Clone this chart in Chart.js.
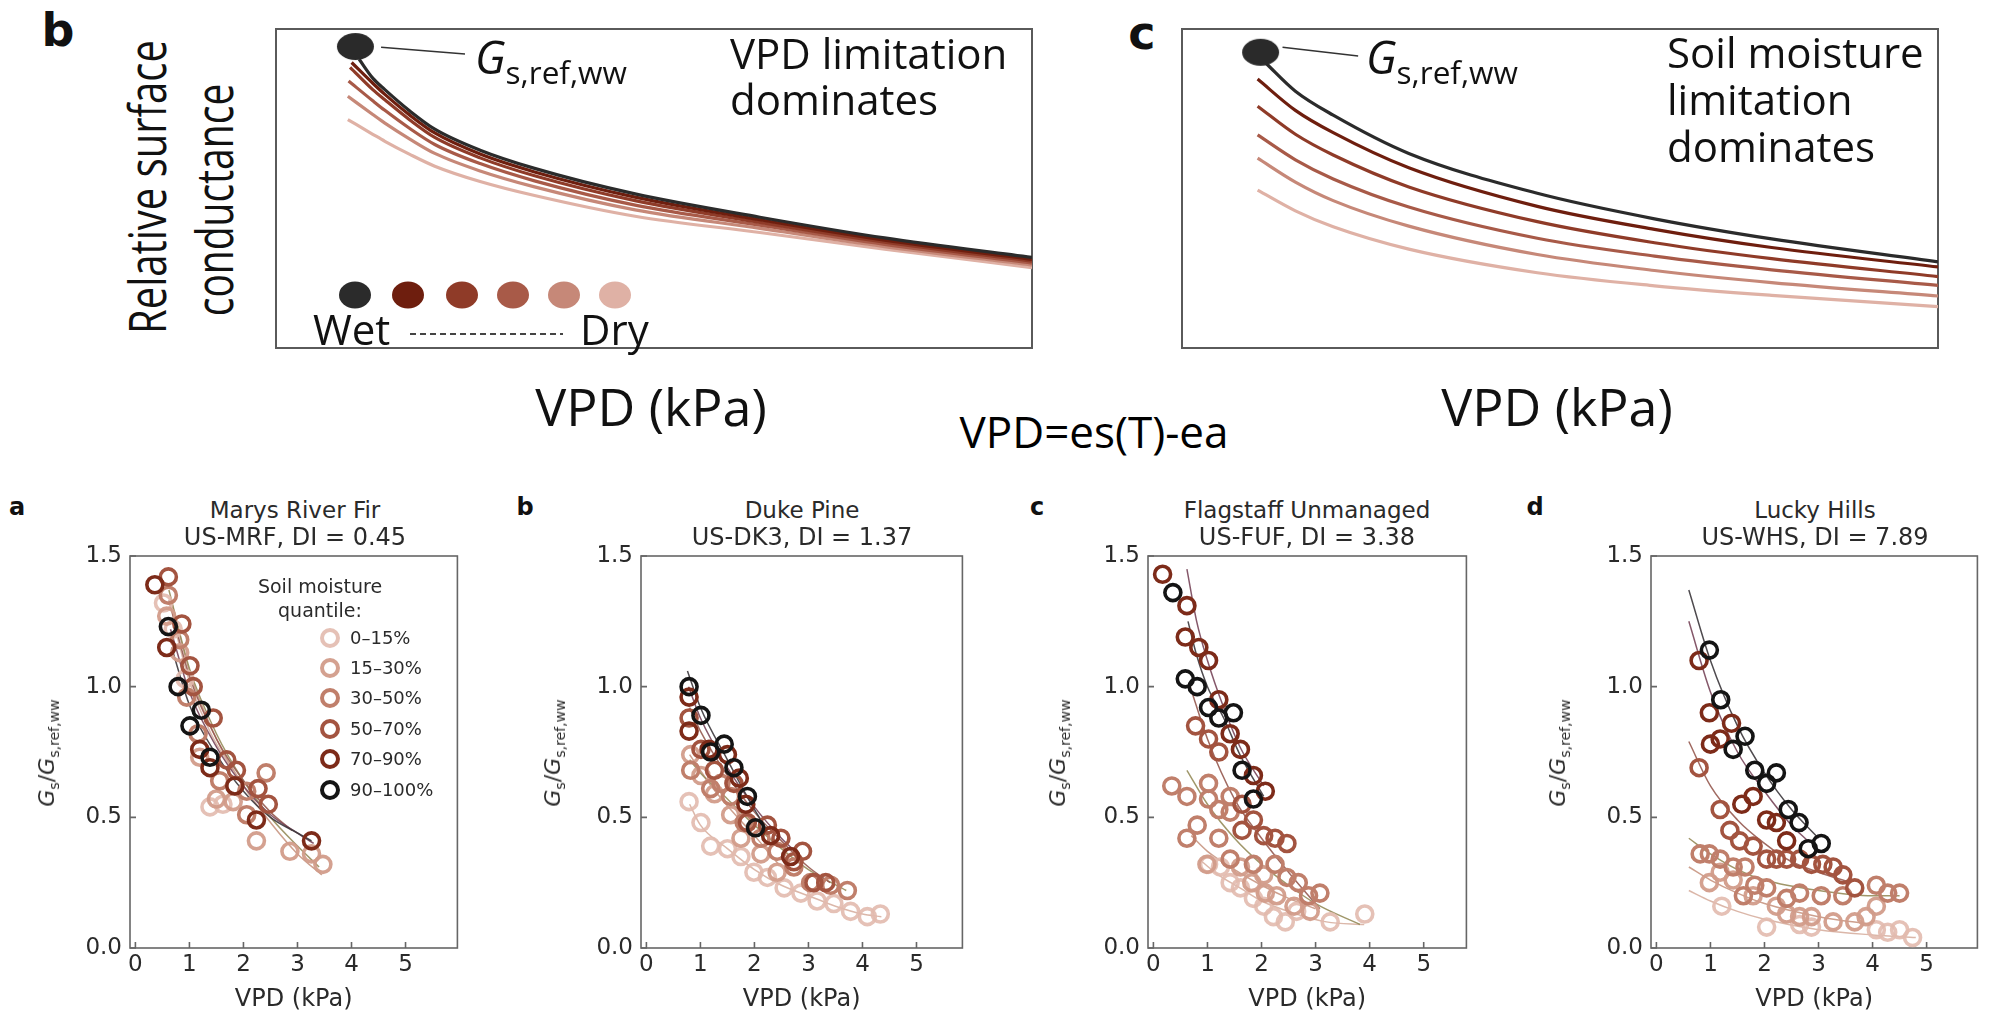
<!DOCTYPE html>
<html>
<head>
<meta charset="utf-8">
<script src="https://cdn.jsdelivr.net/npm/chart.js@4.4.1/dist/chart.umd.min.js"></script>
<style>
  body { margin: 0; background: #fff; }
  #page { position: relative; width: 1990px; height: 1013px; overflow: hidden; }
  canvas { position: absolute; }
  .t { position: absolute; white-space: nowrap; line-height: 1; transform: translate(-50%, -50%); color: #111; }
  .top { font-family: "Open Sans", sans-serif; }
  .bot { font-family: "DejaVu Sans", sans-serif; color: #2a2a2a; }
  .lbl { font-family: "DejaVu Sans", sans-serif; font-weight: bold; color: #111; }
  .rot { transform: translate(-50%, -50%) rotate(-90deg); }
  .rotw { transform: translate(-50%, -50%) rotate(-90deg) scaleY(1.3); }
  .dot { position: absolute; width: 32px; height: 27px; border-radius: 50%; transform: translate(-50%, -50%); }
  .ring { position: absolute; width: 12px; height: 12px; border-radius: 50%; border: 4px solid; transform: translate(-50%, -50%); }
  sub { font-size: 0.64em; vertical-align: baseline; position: relative; top: 0.32em; }
</style>
</head>
<body>
<div id="page">
  <canvas id="topB"></canvas>
  <canvas id="topC"></canvas>
  <canvas id="pA"></canvas>
  <canvas id="pB"></canvas>
  <canvas id="pC"></canvas>
  <canvas id="pD"></canvas>

  <!-- top row texts -->
  <div class="t lbl" style="left:58px;top:30px;font-size:46px;">b</div>
  <div class="t lbl" style="left:1142px;top:33px;font-size:46px;">c</div>
  <div class="t top rotw" style="left:146px;top:187px;font-size:40px;">Relative surface</div>
  <div class="t top rotw" style="left:213px;top:200px;font-size:39px;">conductance</div>

  <div class="t top" style="left:475px;top:34px;transform:none;font-size:45px;"><i>G</i><sub style="font-size:0.7em">s,ref,ww</sub></div>
  <div class="t top" style="left:730px;top:30px;transform:none;font-size:42px;line-height:46px;">VPD limitation<br>dominates</div>
  <div class="t top" style="left:1366px;top:34px;transform:none;font-size:45px;"><i>G</i><sub style="font-size:0.7em">s,ref,ww</sub></div>
  <div class="t top" style="left:1667px;top:28px;transform:none;font-size:42px;line-height:47px;">Soil moisture<br>limitation<br>dominates</div>

  <div class="t top" style="left:313px;top:308px;transform:none;font-size:42px;">Wet</div>
  <div style="position:absolute;left:410px;top:333px;width:153px;height:2px;background:repeating-linear-gradient(90deg,#444 0 6px,transparent 6px 10px);"></div>
  <div class="t top" style="left:580px;top:308px;transform:none;font-size:42px;">Dry</div>

  <div class="t top" style="left:651px;top:406px;font-size:52px;">VPD (kPa)</div>
  <div class="t top" style="left:1557px;top:406px;font-size:52px;">VPD (kPa)</div>
  <div class="t top" style="left:1094px;top:431px;font-size:44px;color:#000;">VPD=es(T)-ea</div>

  <!-- bottom row texts -->
  <div class="t lbl" style="left:17px;top:507px;font-size:24px;">a</div>
  <div class="t lbl" style="left:525px;top:507px;font-size:24px;">b</div>
  <div class="t lbl" style="left:1037px;top:507px;font-size:24px;">c</div>
  <div class="t lbl" style="left:1535px;top:507px;font-size:24px;">d</div>

  <div class="t bot" style="left:295px;top:510px;font-size:23px;">Marys River Fir</div>
  <div class="t bot" style="left:295px;top:537px;font-size:24px;">US-MRF, DI = 0.45</div>
  <div class="t bot" style="left:802px;top:510px;font-size:23px;">Duke Pine</div>
  <div class="t bot" style="left:802px;top:537px;font-size:24px;">US-DK3, DI = 1.37</div>
  <div class="t bot" style="left:1307px;top:510px;font-size:23px;">Flagstaff Unmanaged</div>
  <div class="t bot" style="left:1307px;top:537px;font-size:24px;">US-FUF, DI = 3.38</div>
  <div class="t bot" style="left:1815px;top:510px;font-size:23px;">Lucky Hills</div>
  <div class="t bot" style="left:1815px;top:537px;font-size:24px;">US-WHS, DI = 7.89</div>

  <div class="t bot rot" style="left:47px;top:753px;font-size:22px;"><i>G</i><sub>s</sub>/<i>G</i><sub>s,ref,ww</sub></div>
  <div class="t bot rot" style="left:553px;top:753px;font-size:22px;"><i>G</i><sub>s</sub>/<i>G</i><sub>s,ref,ww</sub></div>
  <div class="t bot rot" style="left:1058px;top:753px;font-size:22px;"><i>G</i><sub>s</sub>/<i>G</i><sub>s,ref,ww</sub></div>
  <div class="t bot rot" style="left:1558px;top:753px;font-size:22px;"><i>G</i><sub>s</sub>/<i>G</i><sub>s,ref,ww</sub></div>

  <div class="t bot" style="left:320px;top:586px;font-size:19px;">Soil moisture</div>
  <div class="t bot" style="left:320px;top:610px;font-size:19px;">quantile:</div>
  <div id="legendA"></div>
  <div id="legendTop"></div>
</div>

<script>
// ---- data ----
const quantileLabels = ['0\u201315%', '15\u201330%', '30\u201350%', '50\u201370%', '70\u201390%', '90\u2013100%'];
const quantileColors = ['rgba(226,186,174,0.9)', 'rgba(210,156,138,0.95)', '#c07f6b', '#a35440', '#7d2b19', '#141414'];
const fitColors = ['rgba(215,175,160,0.9)', 'rgba(200,150,130,0.9)', 'rgba(150,140,90,0.9)', 'rgba(150,90,80,0.9)', 'rgba(120,70,90,0.9)', 'rgba(60,55,60,0.9)'];
const topColors = ['#2b2b2b', '#6e1e0e', '#8f3b28', '#a85a48', '#c68878', '#dfb1a5'];

const xTickVals = [0, 1, 2, 3, 4, 5];
const yTickVals = [0, 0.5, 1.0, 1.5];

// top panel b: VPD limitation dominates (arbitrary units 0-10)
const vpdCurves = [
  [[1.1,9.05],[1.28,8.46],[1.44,8.1],[1.77,7.43],[2.1,6.86],[2.7,6.2],[3.42,5.63],[4.75,4.83],[6.4,4.1],[8.05,3.45],[10,2.84]],
  [[1.0,8.95],[1.28,8.3],[1.44,7.95],[1.77,7.3],[2.1,6.74],[2.7,6.08],[3.42,5.52],[4.75,4.73],[6.4,4.02],[8.05,3.38],[10,2.78]],
  [[0.98,8.8],[1.28,8.1],[1.44,7.78],[1.77,7.15],[2.1,6.6],[2.7,5.96],[3.42,5.4],[4.75,4.62],[6.4,3.94],[8.05,3.32],[10,2.72]],
  [[0.96,8.37],[1.28,7.75],[1.44,7.45],[1.77,6.88],[2.1,6.38],[2.7,5.78],[3.42,5.24],[4.75,4.48],[6.4,3.85],[8.05,3.25],[10,2.66]],
  [[0.95,7.89],[1.28,7.32],[1.44,7.05],[1.77,6.55],[2.1,6.1],[2.7,5.55],[3.42,5.05],[4.75,4.33],[6.4,3.75],[8.05,3.18],[10,2.6]],
  [[0.95,7.16],[1.28,6.7],[1.44,6.48],[1.77,6.07],[2.1,5.7],[2.7,5.22],[3.42,4.78],[4.75,4.13],[6.4,3.62],[8.05,3.1],[10,2.52]]
];
const vpdRefDot = [[1.05, 9.45]];
const vpdLeader = [[1.39, 9.43], [2.5, 9.22]];

// top panel c: soil moisture limitation dominates
const soilCurves = [
  [[1.1,8.95],[1.5,8.05],[2.0,7.3],[3.0,6.1],[4.7,4.85],[6.25,4.05],[7.8,3.42],[10,2.7]],
  [[1.0,8.43],[1.5,7.45],[2.0,6.75],[3.0,5.65],[4.7,4.44],[6.25,3.72],[7.8,3.15],[10,2.54]],
  [[1.0,7.58],[1.5,6.7],[2.0,6.05],[3.0,5.05],[4.7,3.96],[6.25,3.3],[7.8,2.8],[10,2.24]],
  [[1.0,6.68],[1.5,5.9],[2.0,5.3],[3.0,4.42],[4.7,3.44],[6.25,2.88],[7.8,2.45],[10,1.96]],
  [[1.0,5.95],[1.5,5.2],[2.0,4.62],[3.0,3.82],[4.7,2.93],[6.25,2.43],[7.8,2.05],[10,1.63]],
  [[1.0,4.95],[1.5,4.3],[2.0,3.8],[3.0,3.1],[4.7,2.36],[6.25,1.95],[7.8,1.65],[10,1.3]]
];
const soilRefDot = [[1.04, 9.27]];
const soilLeader = [[1.33, 9.43], [2.33, 9.15]];

// a: Marys River Fir (index = quantile, 0 = driest)
const mrfPoints = [
  [[0.52,1.32],[0.7,1.22],[0.92,1.03],[1.38,0.54],[1.62,0.55]],
  [[0.58,1.27],[0.82,1.13],[1.19,0.73],[1.5,0.57],[1.81,0.56],[2.24,0.41],[2.86,0.37],[3.26,0.36],[3.47,0.32]],
  [[0.61,1.35],[0.82,1.18],[0.95,0.96],[1.16,0.82],[1.56,0.64],[2.06,0.6],[2.42,0.67],[2.06,0.51]],
  [[0.61,1.42],[0.86,1.24],[1.01,1.08],[1.07,1.0],[1.44,0.88],[1.69,0.72],[1.87,0.68],[2.27,0.61],[2.46,0.55]],
  [[0.36,1.39],[0.58,1.15],[1.19,0.76],[1.38,0.69],[1.84,0.62],[2.24,0.49],[3.26,0.41]],
  [[0.61,1.23],[0.79,1.0],[1.01,0.85],[1.22,0.91],[1.38,0.73]]
];
const mrfFits = [
  [[0.7,1.25],[1.0,1.02],[1.4,0.82],[1.8,0.68]],
  [[0.65,1.34],[1.0,1.06],[1.5,0.8],[2.0,0.62],[2.5,0.48],[3.0,0.36],[3.45,0.28]],
  [[0.62,1.37],[1.0,1.07],[1.5,0.82],[2.0,0.64],[2.5,0.5],[3.0,0.39],[3.4,0.31]],
  [[0.62,1.33],[1.0,1.04],[1.5,0.8],[2.0,0.64],[2.5,0.52],[2.9,0.45]],
  [[0.65,1.22],[1.0,0.98],[1.5,0.77],[2.0,0.62],[2.5,0.51],[3.0,0.44],[3.3,0.4]],
  [[0.67,1.15],[1.0,0.93],[1.5,0.74],[2.0,0.6],[2.5,0.5],[3.0,0.44],[3.26,0.41]]
];

// b: Duke Pine
const dk3Points = [
  [[0.79,0.56],[1.01,0.48],[1.19,0.39],[1.5,0.38],[1.75,0.35],[1.99,0.29],[2.24,0.27],[2.55,0.23],[2.86,0.21],[3.16,0.18],[3.47,0.17],[3.78,0.14],[4.09,0.12],[4.33,0.13]],
  [[0.82,0.74],[1.01,0.66],[1.26,0.59],[1.56,0.51],[1.75,0.42],[2.12,0.36],[2.42,0.29]],
  [[0.82,0.68],[1.19,0.61],[1.38,0.63],[1.56,0.58],[1.81,0.48],[2.12,0.42],[2.42,0.37],[2.73,0.31],[3.04,0.25],[3.41,0.24],[3.72,0.22]],
  [[0.79,0.88],[1.01,0.76],[1.26,0.68],[1.62,0.63],[1.87,0.48],[2.24,0.47],[2.49,0.42],[2.73,0.33],[2.89,0.37],[3.1,0.25],[3.32,0.25]],
  [[0.79,0.96],[0.79,0.83],[1.16,0.76],[1.5,0.74],[1.72,0.65],[1.84,0.55],[2.3,0.43],[2.67,0.35]],
  [[0.79,1.0],[1.01,0.89],[1.19,0.75],[1.44,0.78],[1.62,0.69],[1.87,0.58],[2.02,0.46]]
];
const dk3Fits = [
  [[0.8,0.55],[1.0,0.47],[1.5,0.38],[2.0,0.3],[2.5,0.24],[3.0,0.2],[3.5,0.16],[4.0,0.13],[4.35,0.12]],
  [[0.8,0.74],[1.2,0.62],[1.6,0.52],[2.0,0.43],[2.45,0.32]],
  [[0.8,0.72],[1.0,0.67],[1.5,0.57],[2.0,0.47],[2.5,0.38],[3.0,0.3],[3.7,0.22]],
  [[0.8,0.92],[1.0,0.83],[1.5,0.66],[2.0,0.52],[2.5,0.41],[3.0,0.31],[3.4,0.25]],
  [[0.78,1.0],[1.0,0.88],[1.5,0.69],[2.0,0.54],[2.5,0.42],[2.75,0.37]],
  [[0.76,1.06],[1.0,0.92],[1.5,0.72],[2.0,0.53],[2.24,0.45]]
];

// c: Flagstaff Unmanaged
const fufPoints = [
  [[1.02,0.32],[1.24,0.31],[1.42,0.25],[1.61,0.23],[1.85,0.19],[2.04,0.16],[2.22,0.12],[2.44,0.1],[2.65,0.14],[3.27,0.1],[3.91,0.13]],
  [[0.99,0.32],[1.61,0.31],[2.04,0.28],[1.82,0.25],[2.07,0.21],[2.28,0.2],[2.9,0.14],[2.6,0.16]],
  [[0.34,0.62],[0.62,0.58],[1.02,0.63],[1.02,0.57],[1.21,0.53],[1.42,0.58],[1.42,0.52],[0.81,0.47],[0.62,0.42],[1.21,0.42],[1.42,0.34],[1.85,0.32],[2.25,0.32],[2.47,0.27],[2.68,0.25],[3.08,0.21],[2.87,0.2]],
  [[0.78,0.85],[1.02,0.8],[1.21,0.75],[1.64,0.55],[1.85,0.49],[2.04,0.43],[2.25,0.42],[2.47,0.4],[1.64,0.45]],
  [[0.17,1.43],[0.62,1.31],[0.59,1.19],[0.84,1.15],[1.02,1.1],[1.21,0.95],[1.42,0.82],[1.61,0.76],[1.85,0.66],[2.07,0.6]],
  [[0.36,1.36],[0.59,1.03],[0.81,1.0],[1.02,0.92],[1.21,0.88],[1.48,0.9],[1.64,0.68],[1.85,0.57]]
];
const fufFits = [
  [[0.9,0.33],[1.2,0.28],[1.6,0.23],[2.0,0.18],[2.5,0.14],[3.2,0.1],[3.9,0.09]],
  [[0.7,0.43],[1.0,0.37],[1.5,0.3],[2.0,0.24],[2.5,0.19],[3.0,0.15]],
  [[0.62,0.68],[1.0,0.55],[1.5,0.42],[2.0,0.32],[2.5,0.24],[3.0,0.17],[3.82,0.09]],
  [[0.68,1.0],[1.0,0.8],[1.5,0.57],[2.0,0.42],[2.5,0.29],[3.08,0.15]],
  [[0.62,1.45],[0.8,1.25],[1.0,1.1],[1.3,0.92],[1.6,0.77],[2.04,0.62]],
  [[0.64,1.25],[0.8,1.12],[1.0,1.0],[1.3,0.88],[1.6,0.74],[2.04,0.58]]
];

// d: Lucky Hills
const whsPoints = [
  [[1.21,0.16],[2.04,0.08],[2.65,0.09],[2.87,0.08],[4.07,0.07],[4.28,0.06],[4.5,0.07],[4.74,0.04]],
  [[0.98,0.25],[1.18,0.29],[1.42,0.26],[1.79,0.2],[2.22,0.16],[2.41,0.13],[2.65,0.12],[2.87,0.12],[3.27,0.1],[3.67,0.1],[3.88,0.12],[4.07,0.16]],
  [[0.81,0.36],[0.98,0.36],[1.18,0.34],[1.42,0.31],[1.64,0.31],[1.82,0.24],[2.04,0.23],[1.61,0.2],[2.41,0.19],[2.65,0.21],[3.05,0.2],[3.45,0.2],[4.07,0.24],[4.28,0.21],[4.5,0.21]],
  [[0.79,0.69],[1.18,0.53],[1.36,0.45],[1.54,0.41],[1.79,0.39],[2.04,0.34],[2.22,0.34],[2.41,0.34],[2.65,0.34],[2.87,0.32],[3.08,0.32],[3.27,0.31],[3.45,0.28],[3.67,0.23]],
  [[0.79,1.10],[0.98,0.9],[1.0,0.78],[1.18,0.80],[1.39,0.86],[1.58,0.55],[1.79,0.58],[2.04,0.49],[2.22,0.48],[2.41,0.41]],
  [[0.98,1.14],[1.19,0.95],[1.42,0.76],[1.64,0.81],[1.82,0.68],[2.04,0.63],[2.22,0.67],[2.44,0.53],[2.64,0.48],[2.81,0.38],[3.05,0.40]]
];
const whsFits = [
  [[0.6,0.22],[1.0,0.18],[1.5,0.14],[2.0,0.11],[3.0,0.07],[4.0,0.05],[4.8,0.04]],
  [[0.6,0.31],[1.0,0.26],[1.5,0.21],[2.0,0.17],[3.0,0.12],[4.0,0.09]],
  [[0.6,0.42],[1.0,0.36],[1.5,0.3],[2.0,0.26],[3.0,0.22],[4.0,0.2],[4.5,0.2]],
  [[0.6,0.79],[1.0,0.62],[1.5,0.49],[2.0,0.4],[2.5,0.33],[3.0,0.29],[3.6,0.25]],
  [[0.6,1.25],[1.0,0.98],[1.5,0.75],[2.0,0.6],[2.5,0.47],[2.8,0.41]],
  [[0.6,1.37],[1.0,1.1],[1.5,0.85],[2.0,0.67],[2.5,0.53],[3.0,0.42]]
];

// ---- helpers ----
const toXY = p => ({ x: p[0], y: p[1] });

// draws the box round the plot area, plus short inward tick marks
const framePlugin = {
  id: 'frame',
  beforeDatasetsDraw(chart, args, opts) {
    const ctx = chart.ctx, a = chart.chartArea;
    ctx.save();
    ctx.strokeStyle = opts.color;
    ctx.lineWidth = opts.width;
    ctx.strokeRect(a.left, a.top, a.right - a.left, a.bottom - a.top);
    if (opts.ticks) {
      ctx.beginPath();
      chart.scales.x.ticks.forEach(t => {
        const px = chart.scales.x.getPixelForValue(t.value);
        ctx.moveTo(px, a.bottom); ctx.lineTo(px, a.bottom - 6);
      });
      chart.scales.y.ticks.forEach(t => {
        const py = chart.scales.y.getPixelForValue(t.value);
        ctx.moveTo(a.left, py); ctx.lineTo(a.left + 6, py);
      });
      ctx.stroke();
    }
    ctx.restore();
  }
};

function ellipseImage(w, h, color) {
  const c = document.createElement('canvas');
  c.width = w; c.height = h;
  const g = c.getContext('2d');
  g.fillStyle = color;
  g.beginPath();
  g.ellipse(w / 2, h / 2, w / 2 - 1, h / 2 - 1, 0, 0, Math.PI * 2);
  g.fill();
  return c;
}

function place(id, left, top, w, h) {
  const cv = document.getElementById(id);
  cv.width = w; cv.height = h;
  cv.style.left = left + 'px'; cv.style.top = top + 'px';
  return cv;
}

function conceptChart(id, left, curves, refDot, leader) {
  const cv = place(id, left, 13, 788, 351);
  const datasets = [];
  datasets.push({ data: refDot.map(toXY), pointStyle: ellipseImage(39, 29, '#2a2a2a'), pointRadius: 15, showLine: false, clip: false });
  datasets.push({ data: leader.map(toXY), borderColor: '#333', borderWidth: 1.5, pointRadius: 0, showLine: true });
  curves.forEach((c, i) => datasets.push({
    data: c.map(toXY), borderColor: topColors[i], borderWidth: 3.2, pointRadius: 0,
    showLine: true, cubicInterpolationMode: 'monotone'
  }));
  new Chart(cv, {
    type: 'scatter',
    data: { datasets },
    options: {
      responsive: false, animation: false, events: [], devicePixelRatio: 1,
      layout: { padding: 10 },
      plugins: { legend: { display: false }, tooltip: { enabled: false }, frame: { color: '#5a5a5a', width: 2, ticks: false } },
      scales: {
        x: { type: 'linear', min: 0, max: 10, display: false },
        y: { type: 'linear', min: 0, max: 10, display: false }
      }
    },
    plugins: [framePlugin]
  });
}

function siteChart(id, boxLeft, boxRight, xMax, points, fits) {
  const boxTop = 556, boxBottom = 948, padTop = 30, axisH = 66;
  const cv = place(id, boxLeft - 80, boxTop - padTop, boxRight - boxLeft + 90, boxBottom - boxTop + padTop + axisH);
  const datasets = [];
  for (let q = 5; q >= 0; q--) {
    datasets.push({
      data: points[q].map(toXY), borderColor: quantileColors[q], backgroundColor: 'rgba(0,0,0,0)',
      pointRadius: 8, pointBorderWidth: 3.6, showLine: false, clip: 12
    });
  }
  for (let q = 5; q >= 0; q--) {
    datasets.push({
      data: fits[q].map(toXY), borderColor: fitColors[q], borderWidth: 1.5, pointRadius: 0,
      showLine: true, cubicInterpolationMode: 'monotone'
    });
  }
  const tickFont = { family: 'DejaVu Sans', size: 23 };
  new Chart(cv, {
    type: 'scatter',
    data: { datasets },
    options: {
      responsive: false, animation: false, events: [], devicePixelRatio: 1,
      layout: { padding: { top: padTop, right: 10, left: 0, bottom: 0 } },
      plugins: { legend: { display: false }, tooltip: { enabled: false }, frame: { color: '#666', width: 1.6, ticks: true } },
      scales: {
        x: {
          type: 'linear', min: -0.1, max: xMax,
          afterBuildTicks: s => { s.ticks = xTickVals.map(v => ({ value: v })); },
          afterFit: s => { s.height = axisH; },
          grid: { display: false, drawTicks: false }, border: { display: false },
          ticks: { font: tickFont, color: '#2a2a2a', padding: 3, maxRotation: 0, callback: v => String(v) },
          title: { display: true, text: 'VPD (kPa)', font: { family: 'DejaVu Sans', size: 24 }, color: '#2a2a2a', padding: { top: 0, bottom: 0 } }
        },
        y: {
          type: 'linear', min: 0, max: 1.5,
          afterBuildTicks: s => { s.ticks = yTickVals.map(v => ({ value: v })); },
          afterFit: s => { s.width = 80; },
          grid: { display: false, drawTicks: false }, border: { display: false },
          ticks: { font: tickFont, color: '#2a2a2a', padding: 8, callback: v => Number(v).toFixed(1) }
        }
      }
    },
    plugins: [framePlugin]
  });
}

// ---- legends ----
const legendA = document.getElementById('legendA');
const legendRows = [638, 668, 698, 729, 759, 790];
quantileLabels.forEach((lab, q) => {
  const r = document.createElement('div');
  r.className = 'ring';
  r.style.left = '330px'; r.style.top = legendRows[q] + 'px'; r.style.borderColor = quantileColors[q];
  legendA.appendChild(r);
  const t = document.createElement('div');
  t.className = 't bot';
  t.style.cssText = 'left:350px;top:' + legendRows[q] + 'px;font-size:18px;transform:translate(0,-50%);';
  t.textContent = lab;
  legendA.appendChild(t);
});
const legendTop = document.getElementById('legendTop');
[355, 408, 462, 513, 564, 615].forEach((x, i) => {
  const d = document.createElement('div');
  d.className = 'dot';
  d.style.left = x + 'px'; d.style.top = '295px'; d.style.background = topColors[i];
  legendTop.appendChild(d);
});

// ---- charts ----
conceptChart('topB', 260, vpdCurves, vpdRefDot, vpdLeader);
conceptChart('topC', 1166, soilCurves, soilRefDot, soilLeader);
siteChart('pA', 130, 459, 5.96, mrfPoints, mrfFits);
siteChart('pB', 641, 964, 5.85, dk3Points, dk3Fits);
siteChart('pC', 1148, 1468, 5.79, fufPoints, fufFits);
siteChart('pD', 1651, 1979, 5.94, whsPoints, whsFits);
</script>
</body>
</html>
